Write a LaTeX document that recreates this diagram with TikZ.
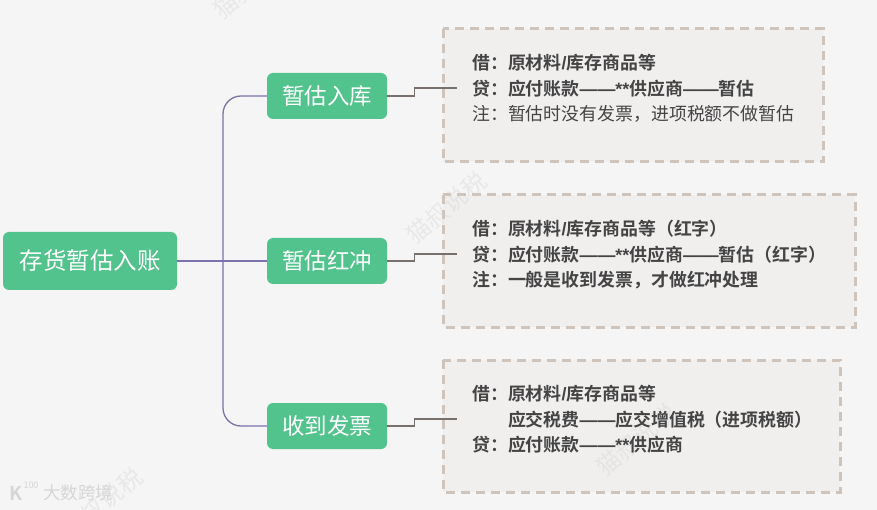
\documentclass[tikz,border=0pt]{standalone}
\usepackage{fontspec}
\setmainfont{Noto Sans CJK SC}[BoldFont={Noto Sans CJK SC Bold}]
\newfontfamily\latfont{Liberation Sans}
\definecolor{pagebg}{HTML}{F5F5F5}
\definecolor{leafgreen}{HTML}{52C38D}
\definecolor{branchpurple}{HTML}{7D72AC}
\definecolor{notefill}{HTML}{F1EFEE}
\definecolor{notedash}{HTML}{CFC4BC}
\definecolor{notetext}{HTML}{444444}
\definecolor{linkgray}{HTML}{77706C}
\definecolor{markgray}{HTML}{CCCCCC}
\definecolor{logogray}{HTML}{D6D6D6}
\tikzset{
  rootbox/.style={draw=none,fill=leafgreen,rounded corners=6pt,text=white,minimum width=174pt,minimum height=58pt,inner sep=0pt,font=\fontsize{23.5pt}{26pt}\selectfont},
  childbox/.style={draw=none,fill=leafgreen,rounded corners=6pt,text=white,minimum width=120pt,minimum height=46pt,inner sep=0pt,font=\fontsize{22.5pt}{25pt}\selectfont},
  notebox/.style={draw=notedash,fill=notefill,line width=3pt,dash pattern=on 9pt off 6pt},
  notetxt/.style={text=notetext,anchor=north west,align=left,inner sep=0pt,font=\fontsize{17.9pt}{25.5pt}\selectfont},
  branch/.style={draw=branchpurple,line width=1.3pt,rounded corners=18pt},
  link/.style={draw=linkgray,line width=1.1pt},
  wmark/.style={text=markgray,text opacity=0.3,rotate=40,font=\fontsize{24pt}{26pt}\selectfont},
  logotxt/.style={text=logogray,inner sep=0pt}
}
\begin{document}
\begin{tikzpicture}[x=1pt,y=-1pt]
    \useasboundingbox[fill=pagebg] (0,0) rectangle (877,510);

    % Note boxes
    \draw[notebox] (443,29) rectangle (823,162);
    \draw[notebox] (443,195) rectangle (855,327);
    \draw[notebox] (443,360) rectangle (840,492);

    % Watermarks
    \node[wmark] (markA) at (253,-17) {猫叔说税};
    \node[wmark] (markB) at (446,208) {猫叔说税};
    \node[wmark] (markC) at (636,440) {猫叔说税};
    \node[wmark] (markD) at (102,504) {猫叔说税};

    % Root and children
    \node[rootbox] (root) at (90,261) {存货暂估入账};
    \node[childbox] (estimate) at (327,96) {暂估入库};
    \node[childbox] (reverse) at (327,261) {暂估红冲};
    \node[childbox] (invoice) at (327,426) {收到发票};

    % Branches
    \coordinate (fork) at (223,261);
    \draw[branch] (root.east) -- (reverse.west);
    \draw[branch] (fork) |- (estimate.west);
    \draw[branch] (fork) |- (invoice.west);

    % Free ends of the links
    \coordinate (endA) at (457,88);
    \coordinate (endB) at (457,254);
    \coordinate (endC) at (457,419);
    \draw[link] (estimate.east) -- ++(27,0) |- (endA);
    \draw[link] (reverse.east) -- ++(27,0) |- (endB);
    \draw[link] (invoice.east) -- ++(27,0) |- (endC);

    % Note texts
    \node[notetxt] (noteA) at (472,54) {\textbf{借^^^^ff1a原材料{\latfont/}库存商品等}\\\textbf{贷^^^^ff1a应付账款{\latfont——**}供应商{\latfont——}暂估}\\注^^^^ff1a暂估时没有发票^^^^ff0c进项税额不做暂估};
    \node[notetxt] (noteB) at (472,220) {\textbf{借^^^^ff1a原材料{\latfont/}库存商品等^^^^ff08红字^^^^ff09}\\\textbf{贷^^^^ff1a应付账款{\latfont——**}供应商{\latfont——}暂估^^^^ff08红字^^^^ff09}\\\textbf{注^^^^ff1a一般是收到发票^^^^ff0c才做红冲处理}};
    \node[notetxt] (noteC) at (472,385) {\textbf{借^^^^ff1a原材料{\latfont/}库存商品等}\\\textbf{\phantom{借^^^^ff1a}应交税费{\latfont——}应交增值税^^^^ff08进项税额^^^^ff09}\\\textbf{贷^^^^ff1a应付账款{\latfont——**}供应商}};

    % Logo
    \node[logotxt,font=\bfseries\fontsize{19pt}{20pt}\selectfont] (logoK) at (16,493) {K};
    \node[logotxt,font=\fontsize{9pt}{9pt}\selectfont] (logoN) at (31,485) {100};
    \node[logotxt,font=\fontsize{17.5pt}{19pt}\selectfont] (logoT) at (78,493) {大数跨境};
\end{tikzpicture}
\end{document}
